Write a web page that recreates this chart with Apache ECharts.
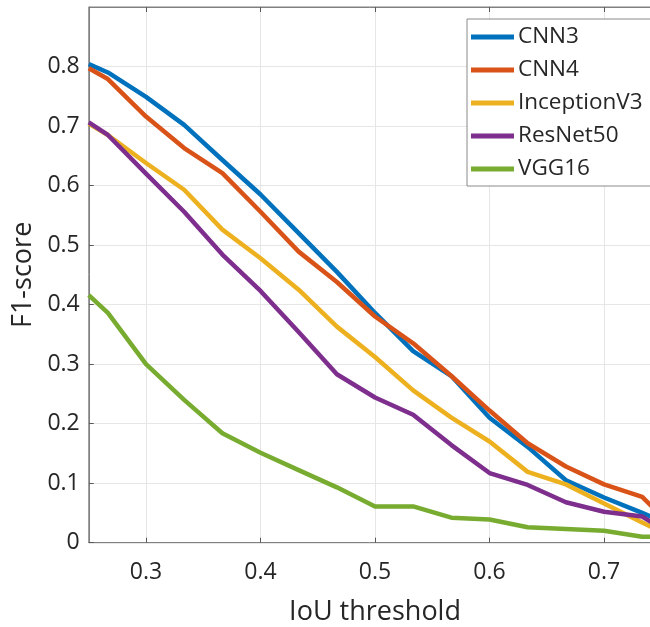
<!DOCTYPE html>
<html>
<head>
<meta charset="utf-8">
<script src="https://cdn.jsdelivr.net/npm/echarts@6/dist/echarts.min.js"></script>
<style>
html,body{margin:0;padding:0;background:#fff;}
#chart{width:650px;height:627px;}
</style>
</head>
<body>
<div id="chart"></div>
<script>
// IoU thresholds (x values)
const iou = [0.25, 0.2667, 0.3, 0.3333, 0.3667, 0.4, 0.4333, 0.4667, 0.5, 0.5333, 0.5667, 0.6, 0.6333, 0.6667, 0.7, 0.7333, 0.75];
const seriesNames = ['CNN3', 'CNN4', 'InceptionV3', 'ResNet50', 'VGG16'];
const cnn3 = [0.804, 0.790, 0.749, 0.702, 0.643, 0.585, 0.520, 0.455, 0.386, 0.322, 0.280, 0.210, 0.161, 0.105, 0.076, 0.050, 0.037];
const cnn4 = [0.797, 0.779, 0.716, 0.663, 0.621, 0.556, 0.489, 0.438, 0.380, 0.335, 0.280, 0.222, 0.167, 0.128, 0.098, 0.077, 0.045];
const inceptionV3 = [0.704, 0.685, 0.638, 0.593, 0.526, 0.478, 0.425, 0.363, 0.312, 0.256, 0.210, 0.170, 0.119, 0.098, 0.066, 0.034, 0.018];
const resNet50 = [0.706, 0.685, 0.620, 0.556, 0.484, 0.423, 0.354, 0.283, 0.244, 0.215, 0.164, 0.117, 0.097, 0.068, 0.052, 0.044, 0.024];
const vgg16 = [0.416, 0.386, 0.300, 0.240, 0.184, 0.151, 0.122, 0.093, 0.061, 0.061, 0.042, 0.039, 0.026, 0.023, 0.020, 0.010, 0.010];
const xTicks = [0.3, 0.4, 0.5, 0.6, 0.7];
const colors = ['#0072BD', '#D95319', '#EDB120', '#7E2F8E', '#77AC30'];

const allValues = [cnn3, cnn4, inceptionV3, resNet50, vgg16];
const FONT = '"Open Sans", "Noto Sans", sans-serif';
const TXT = '#262626';

const chart = echarts.init(document.getElementById('chart'), null, {renderer: 'canvas'});

function pairs(vals) { return iou.map((x, i) => [x, vals[i]]); }

const option = {
  animation: false,
  backgroundColor: '#fff',
  color: colors,
  grid: {left: 88.75, right: -11.3, top: 7, bottom: 84.3, show: true, borderColor: '#808080', borderWidth: 1,
    containLabel: false, outerBoundsMode: 'none'},
  legend: {
    data: seriesNames,
    orient: 'vertical',
    left: 467,
    top: 19,
    icon: 'rect',
    itemWidth: 43,
    itemHeight: 5,
    itemGap: 9,
    padding: [6, 9, 5, 4],
    backgroundColor: '#fff',
    borderColor: '#8a8a8a',
    borderWidth: 1,
    borderRadius: 0,
    textStyle: {fontFamily: FONT, fontSize: 22.5, color: TXT, lineHeight: 24, padding: [0, 0, 0, -1]}
  },
  xAxis: [{
    type: 'value',
    min: 0.25, max: 0.75, splitNumber: 5,
    position: 'bottom',
    name: 'IoU threshold',
    nameLocation: 'middle',
    nameGap: 56,
    nameTextStyle: {fontFamily: FONT, fontSize: 27, color: TXT},
    axisLine: {show: true, lineStyle: {color: '#808080', width: 1}},
    axisTick: {show: true, inside: true, length: 5, lineStyle: {color: '#595959'}, customValues: xTicks},
    axisLabel: {fontFamily: FONT, fontSize: 23, color: TXT, margin: 18, customValues: xTicks,
      formatter: v => v.toFixed(1)},
    splitLine: {show: true, lineStyle: {color: '#e6e6e6', width: 1}}
  }, {
    type: 'value',
    min: 0.25, max: 0.75, splitNumber: 5,
    position: 'top',
    axisLine: {show: true, lineStyle: {color: '#808080', width: 1}},
    axisTick: {show: true, inside: true, length: 5, lineStyle: {color: '#595959'}, customValues: xTicks},
    axisLabel: {show: false},
    splitLine: {show: false}
  }],
  yAxis: {
    type: 'value',
    min: 0, max: 0.9, interval: 0.1,
    name: 'F1-score',
    nameLocation: 'middle',
    nameGap: 47,
    nameTextStyle: {fontFamily: FONT, fontSize: 27, color: TXT},
    axisLine: {show: true, lineStyle: {color: '#808080', width: 1}},
    axisTick: {show: true, inside: true, length: 5, lineStyle: {color: '#595959'}},
    axisLabel: {fontFamily: FONT, fontSize: 23, color: TXT, margin: 9, showMaxLabel: false,
      formatter: v => (v === 0 ? '0' : v.toFixed(1))},
    splitLine: {show: true, lineStyle: {color: '#e6e6e6', width: 1}}
  },
  series: seriesNames.map((n, i) => ({
    name: n,
    type: 'line',
    data: pairs(allValues[i]),
    showSymbol: false,
    symbol: 'none',
    clip: true,
    lineStyle: {width: 4.5, color: colors[i], join: 'round'},
    itemStyle: {color: colors[i]}
  }))
};
chart.setOption(option);
</script>
</body>
</html>
